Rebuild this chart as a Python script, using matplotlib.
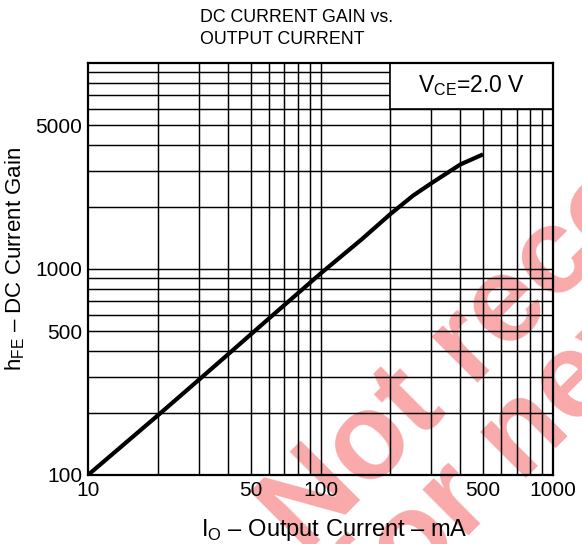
import math
import matplotlib
matplotlib.use("Agg")
import matplotlib.pyplot as plt
from matplotlib.patches import Rectangle
from matplotlib.ticker import FixedLocator, NullFormatter, FixedFormatter

plt.rcParams['font.family'] = ['Liberation Sans', 'DejaVu Sans']
plt.rcParams['mathtext.fontset'] = 'custom'
plt.rcParams['mathtext.rm'] = 'Liberation Sans'

# Data
current_mA = [10, 20, 30, 40, 60, 100, 150, 200, 250, 300, 400, 500]
hfe = [100, 195, 290, 385, 575, 950, 1390, 1850, 2270, 2610, 3220, 3600]

x_major = [10, 50, 100, 500, 1000]
x_major_labels = ['10', '50', '100', '500', '1000']
y_major = [100, 500, 1000, 5000]
y_major_labels = ['100', '500', '1000', '5000']
x_grid = [20, 30, 40, 50, 60, 70, 80, 90, 100, 200, 300, 400, 500, 600, 700, 800, 900]
y_grid = [200, 300, 400, 500, 600, 700, 800, 900, 1000, 2000, 3000, 4000, 5000,
          6000, 7000, 8000, 9000]

box_x = (200, 1000)
box_y = (6000, 10000)

W, H = 582, 544
fig = plt.figure(figsize=(W / 100, H / 100), dpi=100)
ax = fig.add_axes([88 / W, 1 - 475 / H, (553 - 88) / W, (475 - 63) / H])
ax.set_facecolor('none')

ax.set_xscale('log')
ax.set_yscale('log')
ax.set_xlim(10, 1000)
ax.set_ylim(100, 10000)

for xv in x_grid:
    ax.axvline(xv, color='black', lw=1.05, zorder=1)
for yv in y_grid:
    ax.axhline(yv, color='black', lw=1.05, zorder=1)

ax.add_patch(Rectangle((box_x[0], box_y[0]), box_x[1] - box_x[0], box_y[1] - box_y[0],
                       facecolor='white', edgecolor='black', lw=1.2, zorder=2))
box_cx = 10 ** ((math.log10(box_x[0]) + math.log10(box_x[1])) / 2)
box_cy = 10 ** ((math.log10(box_y[0]) + math.log10(box_y[1])) / 2)
ax.text(box_cx, box_cy, r'V$_{\mathregular{CE}}$=2.0 V', ha='center', va='center',
        fontsize=16.5, zorder=3)

ax.plot(current_mA, hfe, color='black', lw=3.0, solid_capstyle='butt', zorder=4)

ax.xaxis.set_major_locator(FixedLocator(x_major))
ax.xaxis.set_major_formatter(FixedFormatter(x_major_labels))
ax.xaxis.set_minor_locator(FixedLocator([]))
ax.xaxis.set_minor_formatter(NullFormatter())
ax.yaxis.set_major_locator(FixedLocator(y_major))
ax.yaxis.set_major_formatter(FixedFormatter(y_major_labels))
ax.yaxis.set_minor_locator(FixedLocator([]))
ax.yaxis.set_minor_formatter(NullFormatter())
ax.tick_params(axis='both', length=0, labelsize=15)
ax.tick_params(axis='x', pad=4)
ax.tick_params(axis='y', pad=4)
for s in ax.spines.values():
    s.set_linewidth(1.6)
    s.set_zorder(5)

fig.text(200 / W, 1 - 18 / H, 'DC CURRENT GAIN vs.', ha='left', va='center', fontsize=12.8)
fig.text(200 / W, 1 - 40 / H, 'OUTPUT CURRENT', ha='left', va='center', fontsize=12.8)

fig.text(15 / W, 1 - 259 / H, r'h$_{\mathregular{FE}}$ – DC Current Gain', rotation=90,
         ha='center', va='center', fontsize=16)
fig.text(334 / W, 1 - 530 / H, r'I$_{\mathregular{O}}$ – Output Current – mA',
         ha='center', va='center', fontsize=17)

# watermark
wm_color = '#f9a9a9'
wm_angle = 45
fig.text(304 / W, 1 - 556 / H, 'Not recommended', rotation=wm_angle, rotation_mode='anchor',
         ha='left', va='baseline', fontsize=88, fontweight='bold', color=wm_color, zorder=-5)
fig.text(382 / W, 1 - 623 / H, 'for new design', rotation=wm_angle, rotation_mode='anchor',
         ha='left', va='baseline', fontsize=88, fontweight='bold', color=wm_color, zorder=-5)

fig.savefig('out.png', dpi=100)
